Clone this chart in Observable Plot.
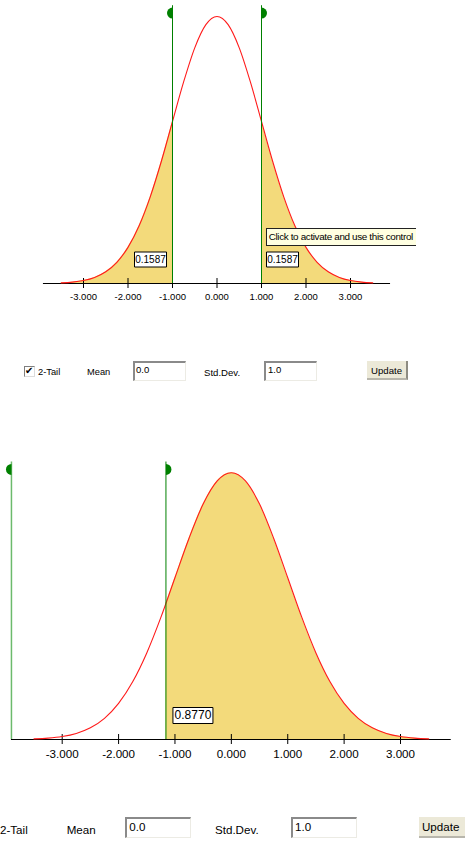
<!DOCTYPE html>
<html>
<head>
<meta charset="utf-8">
<script src="https://cdn.jsdelivr.net/npm/d3@7"></script>
<script src="https://cdn.jsdelivr.net/npm/@observablehq/plot@0.6"></script>
<style>
html, body { margin: 0; padding: 0; background: #fff; }
body { width: 465px; height: 848px; position: relative; overflow: hidden; font-family: "Liberation Sans", Arial, sans-serif; color: #000; }
.abs { position: absolute; }
.lbl { position: absolute; white-space: nowrap; }
.inp { position: absolute; box-sizing: border-box; background: #fff; border-top: 2px solid #8a8a8a; border-left: 2px solid #8a8a8a; border-right: 1px solid #ecebe4; border-bottom: 1px solid #ecebe4; white-space: nowrap; overflow: hidden; }
.btn { position: absolute; box-sizing: border-box; background: #ece9d8; border-right: 2px solid #8e8c82; border-bottom: 2px solid #b8b6ac; white-space: nowrap; overflow: hidden; }
.chk { position: absolute; box-sizing: border-box; background: #fff; border-top: 1px solid #7f7f7f; border-left: 1px solid #7f7f7f; border-right: 1px solid #dcdcdc; border-bottom: 1px solid #dcdcdc; }
.tip { position: absolute; box-sizing: border-box; background: #ffffe1; border-top: 1px solid #222; border-left: 1px solid #222; border-bottom: 1px solid #222; white-space: nowrap; overflow: hidden; }
</style>
</head>
<body>
<div id="topChart" class="abs" style="left:0;top:0"></div>
<div id="bottomChart" class="abs" style="left:0;top:420px"></div>
<div id="ui"></div>
<script>
// ---------- data ----------
const zGrid = [-3.5, -3.25, -3, -2.75, -2.5, -2.25, -2, -1.75, -1.5, -1.25, -1, -0.75, -0.5, -0.25, 0,
               0.25, 0.5, 0.75, 1, 1.25, 1.5, 1.75, 2, 2.25, 2.5, 2.75, 3, 3.25, 3.5];
const density = [0.0009, 0.0020, 0.0044, 0.0091, 0.0175, 0.0317, 0.0540, 0.0863, 0.1295, 0.1826, 0.2420, 0.3011, 0.3521, 0.3867, 0.3989,
                 0.3867, 0.3521, 0.3011, 0.2420, 0.1826, 0.1295, 0.0863, 0.0540, 0.0317, 0.0175, 0.0091, 0.0044, 0.0020, 0.0009];
const tickValues = [-3, -2, -1, 0, 1, 2, 3];
const tickLabels = ["-3.000", "-2.000", "-1.000", "0.000", "1.000", "2.000", "3.000"];
const axisExtent = [-3.9, 3.9];
const markerTop = [0.415];          // height reached by the green cut lines (density units)
const handleLevel = [0.404];        // height of the drag handles (density units)

const topCuts = [-1, 1];
const topAreas = ["0.1587", "0.1587"];

const bottomCuts = [-3.9, -1.16];
const bottomCutDensity = [0.2036];  // curve height at -1.16
const bottomArea = ["0.8770"];

const topControls = { tail: "2-Tail", meanLabel: "Mean", mean: "0.0", sdLabel: "Std.Dev.", sd: "1.0", button: "Update" };
const bottomControls = { tail: "2-Tail", meanLabel: "Mean", mean: "0.0", sdLabel: "Std.Dev.", sd: "1.0", button: "Update" };
const tooltipText = "Click to activate and use this control";

// ---------- helpers ----------
const fillColor = "#f3da7b";
const curveColor = "#ff1a1a";
const green = "#008000";
const lightGreen = "#6cba6c";
const pts = zGrid.map((z, i) => ({ z, d: density[i] }));
const tickFormat = d => tickLabels[tickValues.indexOf(d)];

const halfLeft = { draw(ctx, size) { const r = Math.sqrt(size / Math.PI); ctx.moveTo(0, -r); ctx.arc(0, 0, r, -Math.PI / 2, Math.PI / 2, true); ctx.closePath(); } };
const halfRight = { draw(ctx, size) { const r = Math.sqrt(size / Math.PI); ctx.moveTo(0, -r); ctx.arc(0, 0, r, -Math.PI / 2, Math.PI / 2, false); ctx.closePath(); } };
const box = (w, h) => ({ draw(ctx) { ctx.rect(-w / 2, -h / 2, w, h); } });

function labelMarks(x, text, dx, w, h, fs) {
  const row = [{ x, text }];
  return [
    Plot.dot(row, { x: "x", y: 0, dx, dy: -24, r: 5, symbol: box(w, h), fill: "white", stroke: "black", strokeWidth: 1 }),
    Plot.text(row, { x: "x", y: 0, dx, dy: -24, text: "text", fontSize: fs, fill: "black" })
  ];
}
function axisMarks(fs) {
  return [
    Plot.axisX({ ticks: tickValues, tickSize: 10, dy: -5, tickFormat: () => "", stroke: "black" }),
    Plot.axisX({ ticks: tickValues, tickSize: 0, tickPadding: 10, tickFormat, fill: "black", fontSize: fs })
  ];
}

// ---------- top chart ----------
const leftTail = pts.filter(p => p.z <= topCuts[0]);
const rightTail = pts.filter(p => p.z >= topCuts[1]);

const topPlot = Plot.plot({
  width: 465, height: 310,
  marginTop: 16, marginBottom: 27, marginLeft: 60.75, marginRight: 92.75,
  x: { domain: [-3.5, 3.5], axis: null },
  y: { domain: [0, 0.3989], axis: null },
  style: { fontFamily: "Liberation Sans, Arial, sans-serif", fontSize: "9.5px", background: "transparent", overflow: "visible", color: "black" },
  marks: [
    Plot.areaY(leftTail, { x: "z", y: "d", curve: "monotone-x", fill: fillColor }),
    Plot.areaY(rightTail, { x: "z", y: "d", curve: "monotone-x", fill: fillColor }),
    Plot.ruleY([0], { x1: axisExtent[0], x2: axisExtent[1], stroke: "black", strokeWidth: 1 }),
    ...axisMarks(9.5),
    Plot.line(pts, { x: "z", y: "d", curve: "monotone-x", stroke: curveColor, strokeWidth: 1.1 }),
    Plot.ruleX(topCuts, { y1: 0, y2: markerTop[0], stroke: green, strokeWidth: 1 }),
    Plot.dot([topCuts[0]], { x: d => d, y: handleLevel[0], r: 5.5, symbol: halfLeft, fill: green }),
    Plot.dot([topCuts[1]], { x: d => d, y: handleLevel[0], r: 5.5, symbol: halfRight, fill: green }),
    ...labelMarks(topCuts[0], topAreas[0], -22, 32, 15, 10),
    ...labelMarks(topCuts[1], topAreas[1], 21, 32, 15, 10)
  ]
});
document.getElementById("topChart").append(topPlot);

// ---------- bottom chart ----------
const upperArea = [{ z: bottomCuts[1], d: bottomCutDensity[0] }, ...pts.filter(p => p.z > bottomCuts[1])];

const bottomPlot = Plot.plot({
  width: 465, height: 345,
  marginTop: 52.3, marginBottom: 26, marginLeft: 33.5, marginRight: 36.8,
  x: { domain: [-3.5, 3.5], axis: null },
  y: { domain: [0, 0.3989], axis: null },
  style: { fontFamily: "Liberation Sans, Arial, sans-serif", fontSize: "11.6px", background: "transparent", overflow: "visible", color: "black" },
  marks: [
    Plot.areaY(upperArea, { x: "z", y: "d", curve: "monotone-x", fill: fillColor }),
    Plot.ruleY([0], { x1: axisExtent[0], x2: axisExtent[1], stroke: "black", strokeWidth: 1 }),
    ...axisMarks(11.6),
    Plot.line(pts, { x: "z", y: "d", curve: "monotone-x", stroke: curveColor, strokeWidth: 1.1 }),
    Plot.ruleX([bottomCuts[0]], { y1: 0, y2: markerTop[0], stroke: lightGreen, strokeWidth: 1.5 }),
    Plot.ruleX([bottomCuts[1]], { y1: 0, y2: markerTop[0], stroke: green, strokeWidth: 1 }),
    Plot.dot([bottomCuts[0]], { x: d => d, y: handleLevel[0], r: 5.5, symbol: halfLeft, fill: green }),
    Plot.dot([bottomCuts[1]], { x: d => d, y: handleLevel[0], r: 5.5, symbol: halfRight, fill: green }),
    ...labelMarks(bottomCuts[1], bottomArea[0], 27, 40, 16, 12)
  ]
});
document.getElementById("bottomChart").append(bottomPlot);

// ---------- applet controls (HTML) ----------
const ui = document.getElementById("ui");
function el(cls, text, css) {
  const d = document.createElement("div");
  d.className = cls;
  if (text != null) d.textContent = text;
  Object.assign(d.style, css);
  ui.append(d);
  return d;
}
// tooltip
el("tip", tooltipText, { left: "265.7px", top: "227.7px", width: "150.5px", height: "18.5px", fontSize: "9.9px", letterSpacing: "-0.35px", lineHeight: "16px", paddingLeft: "2px" });

// top row
el("chk", null, { left: "24px", top: "366px", width: "11px", height: "11px" });
el("lbl", "\u2714", { left: "25px", top: "364.5px", fontSize: "10px", lineHeight: "12px", fontFamily: "DejaVu Sans" });
el("lbl", topControls.tail, { left: "38px", top: "367.5px", fontSize: "9.3px", lineHeight: "9.3px" });
el("lbl", topControls.meanLabel, { left: "87px", top: "368px", fontSize: "9.3px", lineHeight: "9.3px" });
el("inp", topControls.mean, { left: "133px", top: "360.7px", width: "52.7px", height: "20px", fontSize: "9.5px", lineHeight: "14px", paddingLeft: "1px" });
el("lbl", topControls.sdLabel, { left: "204px", top: "368px", fontSize: "9.6px", lineHeight: "9.6px" });
el("inp", topControls.sd, { left: "264px", top: "360.7px", width: "52.7px", height: "20px", fontSize: "9.5px", lineHeight: "14px", paddingLeft: "2px" });
el("btn", topControls.button, { left: "367px", top: "360.7px", width: "41px", height: "19.5px", fontSize: "9.6px", lineHeight: "19px", textAlign: "center" });

// bottom row
el("lbl", bottomControls.tail, { left: "0px", top: "823.5px", fontSize: "11.6px", lineHeight: "11.6px" });
el("lbl", bottomControls.meanLabel, { left: "66.7px", top: "823.5px", fontSize: "11.6px", lineHeight: "11.6px" });
el("inp", bottomControls.mean, { left: "125.3px", top: "817.3px", width: "65.7px", height: "20.5px", fontSize: "11.6px", lineHeight: "16px", paddingLeft: "2px" });
el("lbl", bottomControls.sdLabel, { left: "215px", top: "823.5px", fontSize: "11.6px", lineHeight: "11.6px" });
el("inp", bottomControls.sd, { left: "291px", top: "817.3px", width: "65.7px", height: "20.5px", fontSize: "11.6px", lineHeight: "16px", paddingLeft: "2px" });
el("btn", bottomControls.button, { left: "419px", top: "817px", width: "60px", height: "21px", fontSize: "11.6px", lineHeight: "20px", paddingLeft: "3px" });
</script>
</body>
</html>
